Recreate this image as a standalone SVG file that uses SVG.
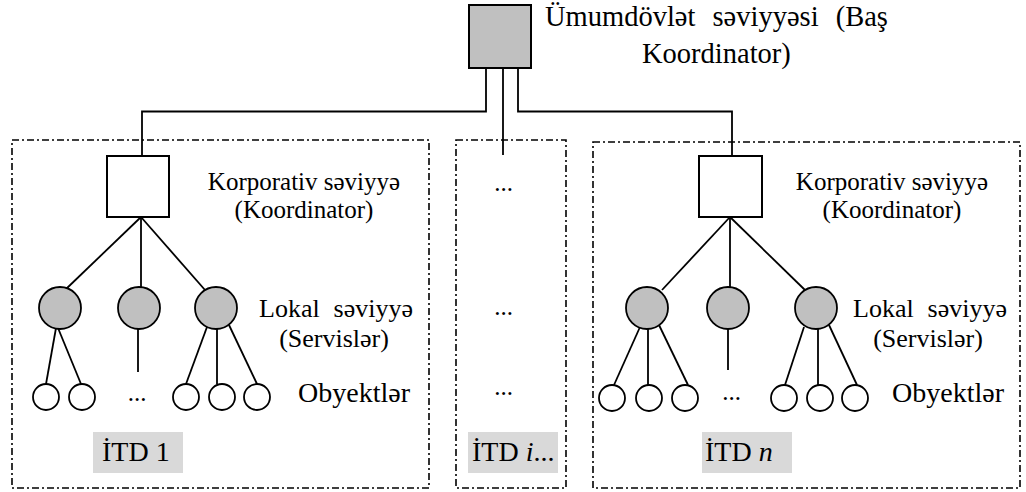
<svg xmlns="http://www.w3.org/2000/svg" width="1026" height="492" viewBox="0 0 1026 492">
<style>
  text { font-family: "Liberation Serif", "DejaVu Serif", serif; fill: #000; }
  .frame { fill: none; stroke: #000; stroke-width: 1.6; stroke-dasharray: 7 3 2 3; }
  .box { stroke: #000; stroke-width: 2; }
  .gray { fill: #c0c0c0; }
  .white { fill: #fff; }
  .svc { fill: #c0c0c0; stroke: #000; stroke-width: 1.8; }
  .obj { fill: #fff; stroke: #000; stroke-width: 1.8; }
  .ln { fill: none; stroke: #000; stroke-width: 1.8; }
  .lbl { fill: #d9d9d9; }
  .t25 { font-size: 25px; }
  .t26 { font-size: 26px; }
  .t28 { font-size: 28px; }
  .top { font-size: 28.5px; }
  .mid { text-anchor: middle; }
  .end { text-anchor: end; }
</style>

<g id="frames">
  <rect class="frame" x="12" y="140" width="417" height="348"/>
  <rect class="frame" x="456" y="140" width="110" height="348"/>
  <rect class="frame" x="593" y="142" width="427" height="346"/>
</g>

<g id="connectors">
  <polyline class="ln" points="486,68 486,111.5 142,111.5 142,156"/>
  <polyline class="ln" points="503,68 503,155"/>
  <polyline class="ln" points="518,68 518,111.5 732,111.5 732,156"/>
  <!-- left ITD -->
  <line class="ln" x1="141" y1="217" x2="65" y2="290"/>
  <line class="ln" x1="141" y1="217" x2="141" y2="287"/>
  <line class="ln" x1="141" y1="217" x2="205" y2="290"/>
  <line class="ln" x1="56" y1="328" x2="46" y2="384"/>
  <line class="ln" x1="58" y1="328" x2="81" y2="384"/>
  <line class="ln" x1="138" y1="329" x2="138" y2="372"/>
  <line class="ln" x1="207" y1="327" x2="186" y2="384"/>
  <line class="ln" x1="217" y1="329" x2="217" y2="384"/>
  <line class="ln" x1="229" y1="325" x2="257" y2="384"/>
  <!-- right ITD -->
  <line class="ln" x1="730" y1="217" x2="662" y2="290"/>
  <line class="ln" x1="730" y1="217" x2="730" y2="287"/>
  <line class="ln" x1="730" y1="217" x2="805" y2="290"/>
  <line class="ln" x1="640" y1="327" x2="614" y2="385"/>
  <line class="ln" x1="648" y1="329" x2="648" y2="385"/>
  <line class="ln" x1="659" y1="325" x2="688" y2="385"/>
  <line class="ln" x1="728" y1="329" x2="728" y2="370"/>
  <line class="ln" x1="804" y1="327" x2="785" y2="385"/>
  <line class="ln" x1="818" y1="329" x2="818" y2="385"/>
  <line class="ln" x1="829" y1="325" x2="857" y2="385"/>
</g>

<g id="top-coordinator">
  <rect class="box gray" x="469" y="5" width="62" height="63"/>
  <text class="top" x="545" y="26" word-spacing="10">Ümumdövlət səviyyəsi (Baş</text>
  <text class="top" x="642" y="63">Koordinator)</text>
</g>

<g id="itd1">
  <rect class="box white" x="107" y="156" width="62" height="61"/>
  <text class="t25 mid" x="304" y="190">Korporativ səviyyə</text>
  <text class="t25 mid" x="304" y="218">(Koordinator)</text>
  <circle class="svc" cx="60" cy="308" r="21"/>
  <circle class="svc" cx="139" cy="308" r="21"/>
  <circle class="svc" cx="216" cy="308" r="21"/>
  <text class="t26" x="259" y="317">Lokal</text>
  <text class="t26 end" x="413" y="317">səviyyə</text>
  <text class="t26 mid" x="334" y="347">(Servislər)</text>
  <circle class="obj" cx="46" cy="397" r="13"/>
  <circle class="obj" cx="82" cy="397" r="13"/>
  <circle class="obj" cx="186" cy="397" r="13"/>
  <circle class="obj" cx="222" cy="397" r="13"/>
  <circle class="obj" cx="257" cy="397" r="13"/>
  <text class="t25 mid" x="137" y="401">...</text>
  <text class="t28" x="298" y="402">Obyektlər</text>
  <rect class="lbl" x="93" y="432" width="90" height="41"/>
  <text class="t28" x="102" y="461">İTD 1</text>
</g>

<g id="itdi">
  <text class="t25 mid" x="503.5" y="191">...</text>
  <text class="t25 mid" x="503.5" y="315">...</text>
  <text class="t25 mid" x="503.5" y="395">...</text>
  <rect class="lbl" x="468" y="432" width="90" height="41"/>
  <text class="t28" x="472" y="461">İTD <tspan font-style="italic">i</tspan>...</text>
</g>

<g id="itdn">
  <rect class="box white" x="699" y="156" width="63" height="61"/>
  <text class="t25 mid" x="892" y="190">Korporativ səviyyə</text>
  <text class="t25 mid" x="892" y="218">(Koordinator)</text>
  <circle class="svc" cx="647" cy="308" r="21"/>
  <circle class="svc" cx="728" cy="308" r="21"/>
  <circle class="svc" cx="816" cy="308" r="21"/>
  <text class="t26" x="853" y="317">Lokal</text>
  <text class="t26 end" x="1007" y="317">səviyyə</text>
  <text class="t26 mid" x="928" y="347">(Servislər)</text>
  <circle class="obj" cx="612" cy="398" r="13"/>
  <circle class="obj" cx="649" cy="398" r="13"/>
  <circle class="obj" cx="685" cy="398" r="13"/>
  <circle class="obj" cx="784" cy="398" r="13"/>
  <circle class="obj" cx="820" cy="398" r="13"/>
  <circle class="obj" cx="855" cy="398" r="13"/>
  <text class="t25 mid" x="731.5" y="400">...</text>
  <text class="t28" x="892" y="402">Obyektlər</text>
  <rect class="lbl" x="702" y="432" width="90" height="41"/>
  <text class="t28" x="705" y="461">İTD <tspan font-style="italic">n</tspan></text>
</g>
</svg>
